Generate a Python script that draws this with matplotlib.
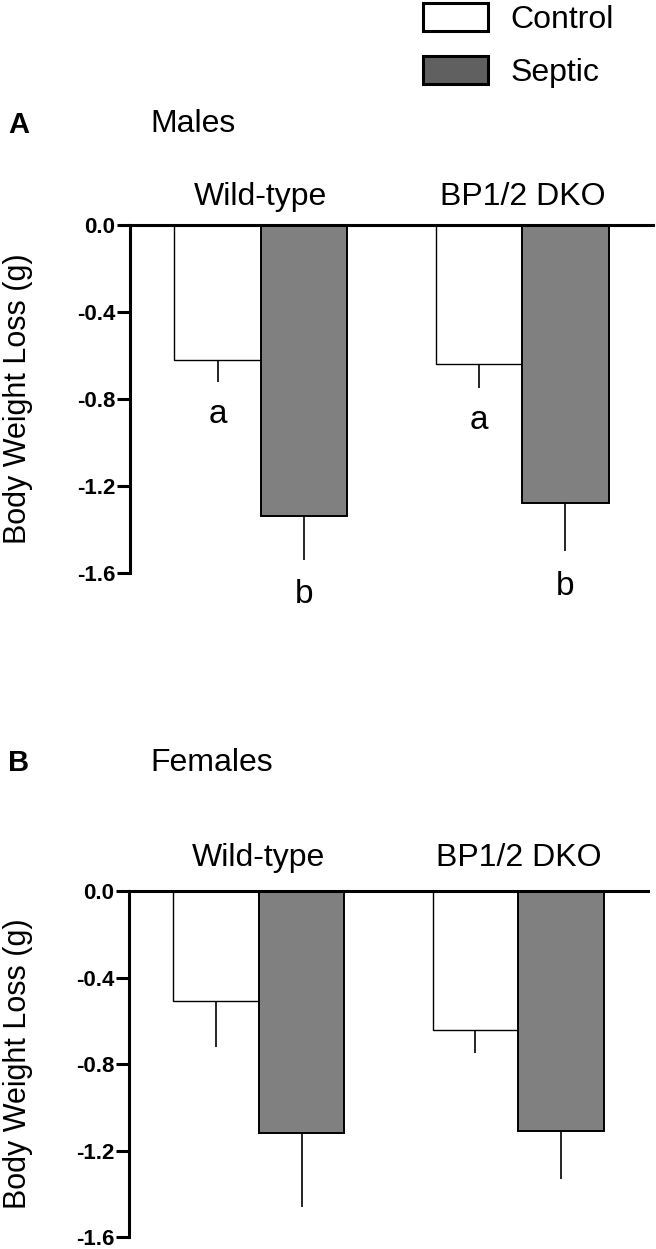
import matplotlib
matplotlib.use("Agg")
import matplotlib.pyplot as plt
from matplotlib.patches import Patch

plt.rcParams['font.family'] = ['Liberation Sans', 'DejaVu Sans']

# data
groups = ['Wild-type', 'BP1/2 DKO']
treatments = ['Control', 'Septic']

males_control = [-0.62, -0.64]
males_control_err = [0.10, 0.11]
males_septic = [-1.34, -1.28]
males_septic_err = [0.20, 0.22]
males_control_letters = ['a', 'a']
males_septic_letters = ['b', 'b']

females_control = [-0.51, -0.64]
females_control_err = [0.21, 0.11]
females_septic = [-1.12, -1.11]
females_septic_err = [0.34, 0.22]

yticks = [0.0, -0.4, -0.8, -1.2, -1.6]

W, H = 656, 1249
fig = plt.figure(figsize=(W / 100, H / 100), dpi=100)


def px(x, y):
    return x / W, 1 - y / H


def draw_panel(rect, ctrl, ctrl_err, sept, sept_err, label_gap,
               ctrl_letters=None, sept_letters=None):
    ax = fig.add_axes(rect)
    xs = range(len(groups))
    w = 0.33
    xc = [x - w / 2 for x in xs]
    xsp = [x + w / 2 for x in xs]
    ax.bar(xc, ctrl, width=w, color='white', edgecolor='black', linewidth=1.0)
    ax.bar(xsp, sept, width=w, color='#808080', edgecolor='black', linewidth=1.4)
    ax.errorbar(xc, ctrl, yerr=[ctrl_err, [0] * len(ctrl)], fmt='none',
                ecolor='black', elinewidth=1.2, capsize=0)
    ax.errorbar(xsp, sept, yerr=[sept_err, [0] * len(sept)], fmt='none',
                ecolor='black', elinewidth=1.2, capsize=0)
    if ctrl_letters:
        for x, v, e, t in zip(xc, ctrl, ctrl_err, ctrl_letters):
            ax.text(x, v - e - 0.15, t, ha='center', va='center', fontsize=24,
                    clip_on=False)
    if sept_letters:
        for x, v, e, t in zip(xsp, sept, sept_err, sept_letters):
            ax.text(x, v - e - 0.16, t, ha='center', va='center', fontsize=24,
                    clip_on=False)
    for x, g in zip(xs, groups):
        ax.annotate(g, xy=(x, 0), xytext=(0, label_gap * 0.72),
                    textcoords='offset points', ha='center', va='baseline',
                    fontsize=23)
    ax.set_xlim(-0.5, 1.5)
    ax.set_ylim(-1.6, 0)
    ax.set_yticks(yticks)
    ax.set_yticklabels([f'{t:.1f}' for t in yticks], fontsize=16,
                       fontweight='bold')
    ax.tick_params(axis='y', direction='out', length=9.5, width=2.2, pad=1)
    ax.set_xticks([])
    ax.spines['bottom'].set_visible(False)
    ax.spines['right'].set_visible(False)
    ax.spines['left'].set_linewidth(2.2)
    ax.spines['top'].set_linewidth(2.2)
    ax.set_ylabel('Body Weight Loss (g)', fontsize=22)
    ax.yaxis.set_label_coords(-0.185, 0.5)
    return ax


draw_panel([130 / W, 1 - 573 / H, 523 / W, 348 / H],
           males_control, males_control_err, males_septic, males_septic_err,
           20, males_control_letters, males_septic_letters)
draw_panel([129 / W, 1 - 1237.3 / H, 519 / W, 346.3 / H],
           females_control, females_control_err, females_septic,
           females_septic_err, 25)

# panel titles
fig.text(*px(8, 133), 'A', fontsize=21, fontweight='bold', va='baseline')
fig.text(*px(150, 132), 'Males', fontsize=23, va='baseline')
fig.text(*px(8, 771), 'B', fontsize=21, fontweight='bold', va='baseline')
fig.text(*px(150, 771), 'Females', fontsize=23, va='baseline')

# legend
handles = [Patch(facecolor='white', edgecolor='black', linewidth=2.2,
                 joinstyle='round'),
           Patch(facecolor='#606060', edgecolor='black', linewidth=2.2,
                 joinstyle='round')]
fig.legend(handles, treatments, loc='upper left',
           bbox_to_anchor=px(423, 3), frameon=False, fontsize=23,
           handlelength=2.05, handleheight=0.95, handletextpad=0.7,
           labelspacing=0.68, borderpad=0, borderaxespad=0)

fig.savefig('out.png', dpi=100)
